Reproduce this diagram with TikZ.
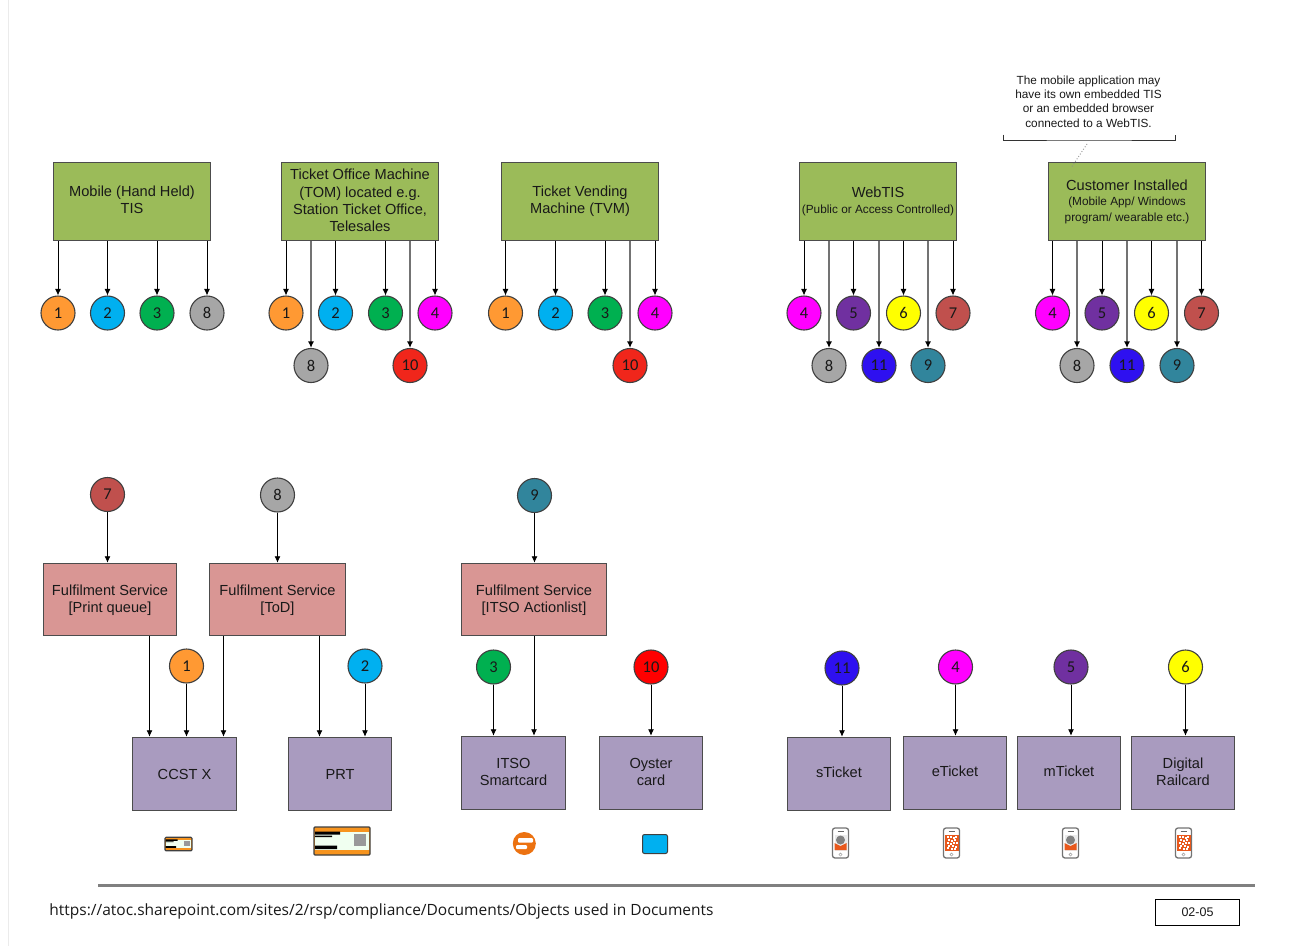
\documentclass[tikz,border=0pt]{standalone}
\usepackage{fontspec}
\usetikzlibrary{arrows.meta}
\setmainfont{Liberation Sans}
\newfontfamily\urlfont{Open Sans}
\newfontfamily\digitfont{Carlito}
\definecolor{c1}{HTML}{FF9933}
\definecolor{c2}{HTML}{00B0F0}
\definecolor{c3}{HTML}{00B050}
\definecolor{c4}{HTML}{FF00FF}
\definecolor{c5}{HTML}{7030A0}
\definecolor{c6}{HTML}{FFFF00}
\definecolor{c7}{HTML}{C0504D}
\definecolor{c8}{HTML}{A6A6A6}
\definecolor{c9}{HTML}{31859C}
\definecolor{c10}{HTML}{F0261B}
\definecolor{c11}{HTML}{2E10F0}
\definecolor{objred}{HTML}{FF0000}
\definecolor{tisgreen}{HTML}{9BBB59}
\definecolor{fulfilred}{HTML}{D99694}
\definecolor{objpurple}{HTML}{A99BBF}
\definecolor{iconorange}{HTML}{F7941E}
\definecolor{phonered}{HTML}{E8581C}
\definecolor{logoorange}{HTML}{EC7211}
\newcommand{\txt}{\fontsize{14.6}{17.2}\selectfont}
\newcommand{\smalltxt}{\fontsize{11.8}{14.3}\selectfont}
\newcommand{\nudge}[2]{\raisebox{#1}[\height][\depth]{#2}}
\tikzset{
  pics/tickicon/.style={code={
    \draw[black!75,fill=iconorange,line width=1.2pt,rounded corners=1pt] (-28,-14) rectangle (28,14);
    \fill[green!6] (-27,-9) rectangle (27,9);
    \fill[black] (-27,-9.5) rectangle (-2,-6.5) (-27,-5.5) rectangle (-10,-4) (-27,4.5) rectangle (-5,8);
    \fill[black!40] (12,-7) rectangle (24,5);
  }},
  pics/phoneicon/.style={code={
    \draw[black!55,fill=white,rounded corners=2.5pt,line width=1.3pt] (-8,-15) rectangle (8,15);
    \draw[black!60,line width=.8pt] (-3,-12) -- (3,-12);
    \draw[black!40,line width=.5pt] (0,11.5) circle (1.6);
  }},
  pics/envscreen/.style={code={
    \fill[black!8] (-6,-8.5) rectangle (6,7.5);
    \fill[black!50] (0,-3) circle (4.5);
    \fill[phonered] (-6,0) -- (0,3) -- (6,0) -- (6,7) -- (-6,7) -- cycle;
  }},
  pics/qrscreen/.style={code={
    \fill[phonered] (-7,-8.5) rectangle (7,7.5);
    \foreach \a/\b in {-5/-7,-2/-7,1/-6,3/-7,-4/-4,-1/-3,2/-4,-5/-1,-2/0,1/-1,4/-1,-4/2,0/2,3/3,-5/4,-1/5,2/5}
      \fill[white] (\a,\b) rectangle ++(2.2,2.2);
  }}
}
\begin{document}
\begin{tikzpicture}[x=1pt,y=-1pt,>={Latex[length=6.5pt,width=6pt,black]},line width=.9pt,
  every node/.style={align=center,text=black!90},
  badge/.style={draw=black!75,line width=1.1pt,circle,minimum size=34pt,inner sep=0pt,fill=#1,font=\digitfont\fontsize{16.5}{18}\selectfont},
  tis/.style={draw=black!70,line width=.9pt,fill=tisgreen,minimum width=157.6pt,minimum height=78.6pt,inner sep=0pt,font=\txt},
  fulfil/.style={draw=black!70,line width=.9pt,fill=fulfilred,minimum height=72.6pt,inner sep=0pt,font=\txt},
  object/.style={draw=black!70,line width=.9pt,fill=objpurple,minimum width=103.6pt,minimum height=73.6pt,inner sep=0pt,font=\txt},
  longarrow/.style={->,draw=black!55,line width=1.4pt}]
\useasboundingbox (0,0) rectangle (1290,946);
\draw[black!8,line width=1pt] (8,0) -- (8,946);

% top row
\node[tis] (mobile) at (132,201.5) {\nudge{2pt}{Mobile (Hand Held)}\\\nudge{2pt}{TIS}};
\node[tis] (tom) at (360,201.5) {\nudge{1pt}{Ticket Office Machine}\\\nudge{1pt}{(TOM) located e.g.}\\\nudge{1pt}{Station Ticket Office,}\\\nudge{1pt}{Telesales}};
\node[tis] (tvm) at (580,201.5) {Ticket Vending\\Machine (TVM)};
\node[tis] (webtis) at (878,201.5) {WebTIS\\[-1pt]{\smalltxt(Public or Access Controlled)}};
\node[tis] (custom) at (1127,201.5) {\nudge{-1pt}{Customer Installed}\\[-2pt]{\smalltxt(Mobile App/ Windows}\\[-1pt]{\smalltxt program/ wearable etc.)}};

\node[badge=c1] (mob1) at (58,313) {1};
\node[badge=c2] (mob2) at (107.5,313) {2};
\node[badge=c3] (mob3) at (157,313) {3};
\node[badge=c8] (mob8) at (207,313) {8};

\node[badge=c1] (tom1) at (286,313) {1};
\node[badge=c2] (tom2) at (335.5,313) {2};
\node[badge=c3] (tom3) at (385.5,313) {3};
\node[badge=c4] (tom4) at (435,313) {4};
\node[badge=c8] (tom8) at (311,365.5) {8};
\node[badge=c10] (tom10) at (410,365.5) {10};

\node[badge=c1] (tvm1) at (505.5,313) {1};
\node[badge=c2] (tvm2) at (555.5,313) {2};
\node[badge=c3] (tvm3) at (605,313) {3};
\node[badge=c4] (tvm4) at (655,313) {4};
\node[badge=c10] (tvm10) at (630,365.5) {10};

\node[badge=c4] (web4) at (804,313) {4};
\node[badge=c5] (web5) at (853.5,313) {5};
\node[badge=c6] (web6) at (903.5,313) {6};
\node[badge=c7] (web7) at (953,313) {7};
\node[badge=c8] (web8) at (829,365.5) {8};
\node[badge=c11] (web11) at (879,365.5) {11};
\node[badge=c9] (web9) at (928,365.5) {9};

\node[badge=c4] (cus4) at (1052.5,313) {4};
\node[badge=c5] (cus5) at (1102,313) {5};
\node[badge=c6] (cus6) at (1151.5,313) {6};
\node[badge=c7] (cus7) at (1201.5,313) {7};
\node[badge=c8] (cus8) at (1077,365.5) {8};
\node[badge=c11] (cus11) at (1127,365.5) {11};
\node[badge=c9] (cus9) at (1177,365.5) {9};

\foreach \c in {mob1,mob2,mob3,mob8} \draw[->] (mobile.south -| \c.north) -- (\c.north);
\foreach \c in {tom1,tom2,tom3,tom4} \draw[->] (tom.south -| \c.north) -- (\c.north);
\foreach \c in {tom8,tom10} \draw[longarrow] (tom.south -| \c.north) -- (\c.north);
\foreach \c in {tvm1,tvm2,tvm3,tvm4} \draw[->] (tvm.south -| \c.north) -- (\c.north);
\draw[longarrow] (tvm.south -| tvm10.north) -- (tvm10.north);
\foreach \c in {web4,web5,web6,web7} \draw[->] (webtis.south -| \c.north) -- (\c.north);
\foreach \c in {web8,web11,web9} \draw[longarrow] (webtis.south -| \c.north) -- (\c.north);
\foreach \c in {cus4,cus5,cus6,cus7} \draw[->] (custom.south -| \c.north) -- (\c.north);
\foreach \c in {cus8,cus11,cus9} \draw[longarrow] (custom.south -| \c.north) -- (\c.north);

% note over customer installed
\node[font=\smalltxt] (note) at (1088.5,101.5) {The mobile application may\\have its own embedded TIS\\or an embedded browser\\connected to a WebTIS.};
\coordinate (brleft) at (1003,134.5);
\coordinate (brright) at (1175,134.5);
\draw[black!80] (brleft) |- (1089,140) -| (brright);
\coordinate (brmid) at (1087,144);
\draw[black!45,dotted] (brmid) -- (1071,168);

% fulfilment
\node[badge=c7] (ful7) at (107.5,494.5) {7};
\node[badge=c8] (ful8) at (277.5,495) {8};
\node[badge=c9] (ful9) at (534.5,495.5) {9};
\node[fulfil,minimum width=133.6pt] (print) at (110,599.5) {\nudge{-1pt}{Fulfilment Service}\\\nudge{-1pt}{[Print queue]}};
\node[fulfil,minimum width=136.6pt] (tod) at (277.5,599.5) {\nudge{-1pt}{Fulfilment Service}\\\nudge{-1pt}{[ToD]}};
\node[fulfil,minimum width=145.6pt] (itsoq) at (534,599.5) {\nudge{-1pt}{Fulfilment Service}\\\nudge{-1pt}{[ITSO Actionlist]}};
\draw[->] (ful7) -- (ful7 |- print.north);
\draw[->] (ful8) -- (ful8 |- tod.north);
\draw[->] (ful9) -- (ful9 |- itsoq.north);

% objects
\node[object] (ccst) at (184.5,774) {CCST X};
\node[object] (prt) at (340,774) {PRT};
\node[object] (itso) at (513.5,773) {\nudge{1pt}{ITSO}\\\nudge{1pt}{Smartcard}};
\node[object] (oyster) at (651,773) {\nudge{1pt}{Oyster}\\\nudge{1pt}{card}};
\node[object] (sticket) at (839,774) {\nudge{2pt}{sTicket}};
\node[object] (eticket) at (955,773) {\nudge{2pt}{eTicket}};
\node[object] (mticket) at (1069,773) {\nudge{2pt}{mTicket}};
\node[object] (railcard) at (1183,773) {\nudge{1pt}{Digital}\\\nudge{1pt}{Railcard}};

\node[badge=c1] (obj1) at (186.5,666) {1};
\node[badge=c2] (obj2) at (365,666) {2};
\node[badge=c3] (obj3) at (493.5,667) {3};
\node[badge=objred] (obj10) at (651,667) {10};
\node[badge=c11] (obj11) at (842,668) {11};
\node[badge=c4] (obj4) at (955.5,667) {4};
\node[badge=c5] (obj5) at (1071,667) {5};
\node[badge=c6] (obj6) at (1185.5,667) {6};

\draw[->] (obj1) -- (obj1 |- ccst.north);
\draw[->] (obj2) -- (obj2 |- prt.north);
\draw[->] (obj3) -- (obj3 |- itso.north);
\draw[->] (obj10) -- (obj10 |- oyster.north);
\draw[->] (obj11) -- (obj11 |- sticket.north);
\draw[->] (obj4) -- (obj4 |- eticket.north);
\draw[->] (obj5) -- (obj5 |- mticket.north);
\draw[->] (obj6) -- (obj6 |- railcard.north);
\coordinate (pr1) at (149.5,636);
\coordinate (td1) at (223.5,636);
\coordinate (td2) at (319.5,636);
\draw[->] (pr1) -- (pr1 |- ccst.north);
\draw[->] (td1) -- (td1 |- ccst.north);
\draw[->] (td2) -- (td2 |- prt.north);
\draw[->] (itsoq.south) -- (itsoq.south |- itso.north);

% icons
\begin{scope}[shift={(178.5,844)},scale=.48]
\pic[transform shape] {tickicon};
\end{scope}
\begin{scope}[shift={(342,841)}]
\pic {tickicon};
\end{scope}
\fill[logoorange] (524.3,843.5) circle (11.5);
\fill[white,rounded corners=1pt] (518,838) rectangle (533,842.5) (516,845) rectangle (527,849);
\draw[black!75,fill=c2,line width=1pt,rounded corners=2pt] (642.5,834.5) rectangle (667.5,853.5);
\pic at (840.5,843) {phoneicon};
\pic at (840.5,843) {envscreen};
\pic at (951.5,843) {phoneicon};
\pic at (951.5,843) {qrscreen};
\pic at (1070.5,843) {phoneicon};
\pic at (1070.5,843) {envscreen};
\pic at (1183.5,843) {phoneicon};
\pic at (1183.5,843) {qrscreen};

% footer
\draw[black!50,line width=3pt] (98,885) -- (1255,885);
\node[anchor=west,inner sep=0pt,font=\urlfont\fontsize{15.5}{18}\selectfont] (url) at (49,911) {https://atoc.sharepoint.com/sites/2/rsp/compliance/Documents/Objects used in Documents};
\node[draw=black,line width=1pt,minimum width=84pt,minimum height=26pt,inner sep=0pt,font=\fontsize{12.5}{15}\selectfont] (docref) at (1197.5,912) {02-05};
\end{tikzpicture}
\end{document}
